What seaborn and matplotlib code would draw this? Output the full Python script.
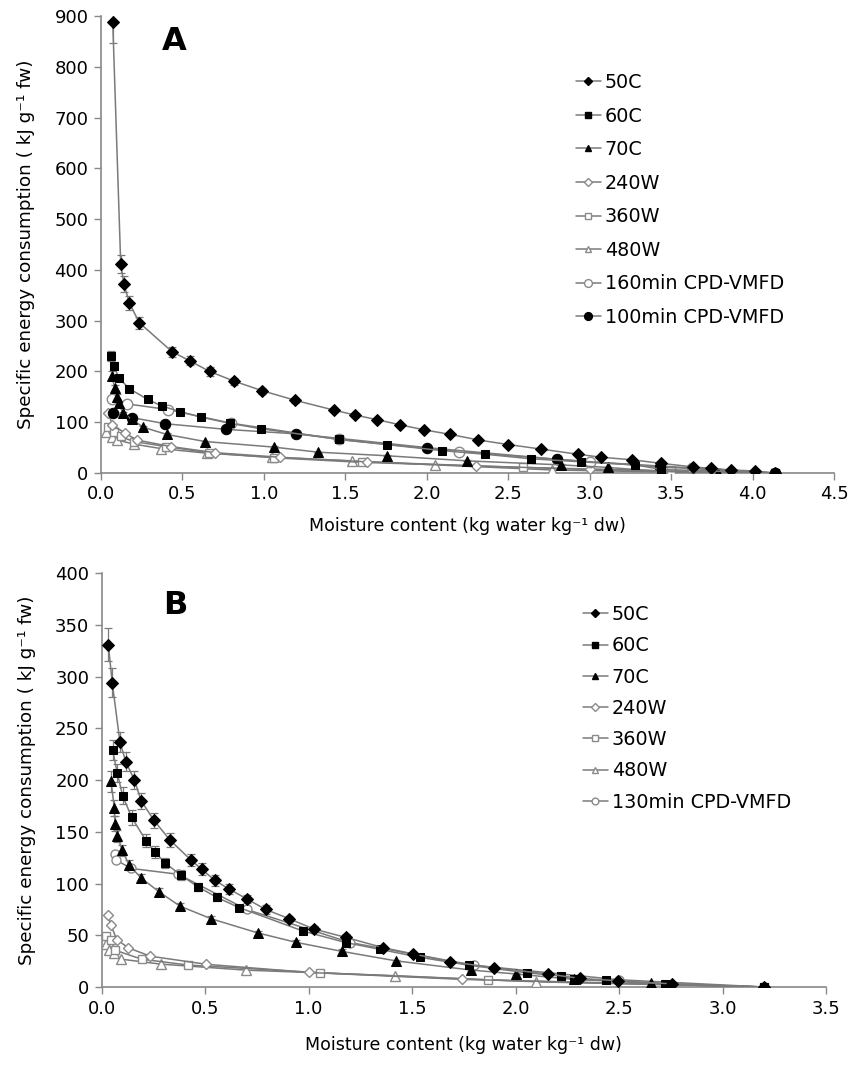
import numpy as np
import matplotlib
matplotlib.use("Agg")
import matplotlib.pyplot as plt
import seaborn as sns
from matplotlib.lines import Line2D

sns.set_style("white")
plt.rcParams['font.family'] = ['DejaVu Sans']
plt.rcParams['text.color'] = 'black'
plt.rcParams['axes.labelcolor'] = 'black'
plt.rcParams['xtick.color'] = 'black'
plt.rcParams['ytick.color'] = 'black'

# ---------------- Panel A data ----------------
a_50c_x = [0.072, 0.121, 0.141, 0.174, 0.235, 0.436, 0.544, 0.667, 0.816, 0.990, 1.194, 1.428, 1.561,
           1.696, 1.834, 1.984, 2.145, 2.317, 2.501, 2.704, 2.926, 3.072, 3.26, 3.44, 3.634, 3.747,
           3.865, 4.012, 4.135]
a_50c_y = [889, 412, 372, 335, 296, 239, 221, 200, 181, 162, 143, 124, 114, 105, 95, 85, 76, 65, 56,
           47, 37, 31, 26, 19, 12, 9, 6, 4, 0]
a_50c_e = [42, 18, 16, 14, 12, 10, 9, 8, 7, 6, 5, 4, 4, 3, 3, 3, 2, 2, 2, 2, 1, 1, 1, 1, 1, 1, 1, 1, 0]

a_60c_x = [0.061, 0.080, 0.110, 0.174, 0.286, 0.372, 0.485, 0.613, 0.79, 0.984, 1.464, 1.753, 2.096,
           2.356, 2.64, 2.947, 3.28, 3.44, 4.135]
a_60c_y = [231, 210, 187, 166, 145, 132, 121, 110, 98, 87, 66, 56, 44, 37, 28, 22, 16, 7, 0]
a_60c_e = [10, 8, 6, 5, 4, 3, 3, 3, 2, 2, 2, 1, 1, 1, 1, 1, 1, 1, 0]

a_70c_x = [0.065, 0.086, 0.096, 0.110, 0.133, 0.188, 0.26, 0.403, 0.638, 1.061, 1.333, 1.753, 2.244,
           2.822, 3.11, 3.44, 3.79]
a_70c_y = [192, 167, 150, 137, 118, 106, 90, 76, 62, 51, 41, 34, 24, 16, 11, 3, 0]
a_70c_e = [8, 6, 5, 4, 3, 3, 3, 2, 2, 2, 1, 1, 1, 1, 1, 1, 0]

a_240w_x = [0.045, 0.07, 0.15, 0.22, 0.43, 0.70, 1.10, 1.63, 2.305, 3.0, 4.135]
a_240w_y = [118, 95, 78, 65, 52, 40, 31, 22, 14, 7, 0]

a_360w_x = [0.04, 0.08, 0.12, 0.20, 0.40, 0.66, 1.06, 1.60, 2.59, 3.5, 4.135]
a_360w_y = [90, 80, 72, 62, 52, 40, 30, 21, 11, 4, 0]

a_480w_x = [0.03, 0.07, 0.10, 0.20, 0.37, 0.65, 1.05, 1.54, 2.05, 2.77, 3.8]
a_480w_y = [80, 70, 65, 57, 48, 39, 31, 24, 16, 6, 0]

a_160_x = [0.065, 0.162, 0.41, 0.80, 1.46, 2.2, 3.0, 3.63, 4.135]
a_160_y = [146, 136, 125, 98, 66, 42, 22, 10, 0]

a_100_x = [0.076, 0.192, 0.395, 0.767, 1.20, 2.0, 2.8, 3.43, 4.135]
a_100_y = [119, 109, 97, 86, 77, 50, 27, 12, 0]

# ---------------- Panel B data ----------------
b_50c_x = [0.032, 0.051, 0.088, 0.116, 0.158, 0.191, 0.253, 0.33, 0.43, 0.483, 0.547, 0.617, 0.703,
           0.792, 0.906, 1.026, 1.179, 1.361, 1.505, 1.683, 1.895, 2.155, 2.31, 2.496, 2.758, 3.2]
b_50c_y = [331, 294, 237, 218, 200, 180, 161, 142, 123, 114, 103, 94.5, 85, 75, 66, 56, 48, 38, 32,
           24.5, 18.7, 12.5, 8.4, 6, 3, 0]
b_50c_e = [16, 14, 10, 9, 9, 8, 7, 7, 6, 6, 5, 5, 4, 4, 3, 3, 3, 2, 2, 2, 1, 1, 1, 1, 1, 0]

b_60c_x = [0.053, 0.075, 0.101, 0.145, 0.214, 0.257, 0.306, 0.383, 0.464, 0.556, 0.665, 0.974, 1.179,
           1.344, 1.538, 1.776, 2.053, 2.219, 2.283, 2.436, 2.721, 3.2]
b_60c_y = [229, 207, 185, 164, 141.5, 130.6, 120, 108, 97, 86.7, 76.7, 54, 43, 36.4, 28.7, 21, 13.8,
           10.6, 7.4, 6.8, 3, 0]
b_60c_e = [10, 9, 8, 7, 6, 6, 5, 5, 4, 4, 3, 2, 2, 2, 1, 1, 1, 1, 1, 1, 1, 0]

b_70c_x = [0.045, 0.061, 0.064, 0.075, 0.10, 0.132, 0.19, 0.278, 0.378, 0.53, 0.754, 0.939, 1.162,
           1.421, 1.784, 2.0, 2.28, 2.654, 3.2]
b_70c_y = [199, 173, 158, 146, 132, 118, 105.5, 91.9, 78.2, 65.9, 52.3, 43.2, 34.4, 25.3, 16.4, 12.6,
           7.4, 3.6, 0]
b_70c_e = [10, 8, 7, 6, 5, 5, 4, 4, 3, 3, 2, 2, 2, 1, 1, 1, 1, 1, 0]

b_240w_x = [0.029, 0.045, 0.073, 0.129, 0.235, 0.504, 1.0, 1.739, 3.2]
b_240w_y = [69.8, 59.6, 45.8, 37.8, 29.8, 22, 14.1, 7.4, 0]

b_360w_x = [0.019, 0.045, 0.064, 0.193, 0.419, 1.055, 1.868, 3.2]
b_360w_y = [49.4, 45.2, 35.6, 26.9, 21.2, 13.8, 6.8, 0]

b_480w_x = [0.021, 0.037, 0.06, 0.094, 0.286, 0.697, 1.419, 2.1, 3.2]
b_480w_y = [42, 36.2, 32.4, 26.9, 22.1, 16.3, 10.9, 5, 0]

b_130_x = [0.064, 0.07, 0.143, 0.37, 0.70, 1.2, 1.8, 2.5, 3.2]
b_130_y = [129, 122.7, 114.6, 109, 75, 43, 21, 7, 0]

LINE = "#7a7a7a"
GREY = "#8a8a8a"

W, H = 862, 1065
fig = plt.figure(figsize=(W / 100, H / 100), dpi=100)
axA = fig.add_axes([101 / W, 1 - 473 / H, 733 / W, 457 / H])
axB = fig.add_axes([101.7 / W, 1 - 987 / H, 724.3 / W, 413.7 / H])


def draw(ax, x, y, label, marker, filled, ms, yerr=None):
    if yerr is not None:
        ax.errorbar(x, y, yerr=yerr, fmt="none", ecolor=LINE, elinewidth=0.9, capsize=3,
                    capthick=0.9, zorder=2)
    if filled:
        kw = dict(markerfacecolor="black", markeredgecolor="black")
    else:
        kw = dict(markerfacecolor="white", markeredgecolor=GREY, markeredgewidth=1.0)
    sns.lineplot(x=x, y=y, ax=ax, sort=False, estimator=None, color=LINE, linewidth=1.1,
                 marker=marker, markersize=ms, zorder=3, legend=False, **kw)
    return Line2D([], [], color=LINE, linewidth=1.1, marker=marker, markersize=ms * 0.75, **kw), label


handlesA = []
handlesA.append(draw(axA, a_480w_x, a_480w_y, "480W", "^", False, 6.5))
handlesA.append(draw(axA, a_360w_x, a_360w_y, "360W", "s", False, 5.5))
handlesA.append(draw(axA, a_240w_x, a_240w_y, "240W", "D", False, 5))
handlesA.append(draw(axA, a_160_x, a_160_y, "160min CPD-VMFD", "o", False, 7.5))
handlesA.append(draw(axA, a_100_x, a_100_y, "100min CPD-VMFD", "o", True, 7.5))
handlesA.append(draw(axA, a_70c_x, a_70c_y, "70C", "^", True, 6.5, a_70c_e))
handlesA.append(draw(axA, a_60c_x, a_60c_y, "60C", "s", True, 6, a_60c_e))
handlesA.append(draw(axA, a_50c_x, a_50c_y, "50C", "D", True, 6, a_50c_e))
orderA = ["50C", "60C", "70C", "240W", "360W", "480W", "160min CPD-VMFD", "100min CPD-VMFD"]
hmap = {l: h for h, l in handlesA}

handlesB = []
handlesB.append(draw(axB, b_480w_x, b_480w_y, "480W", "^", False, 6.5))
handlesB.append(draw(axB, b_360w_x, b_360w_y, "360W", "s", False, 5.5))
handlesB.append(draw(axB, b_240w_x, b_240w_y, "240W", "D", False, 5))
handlesB.append(draw(axB, b_130_x, b_130_y, "130min CPD-VMFD", "o", False, 6.5))
handlesB.append(draw(axB, b_70c_x, b_70c_y, "70C", "^", True, 6.5, b_70c_e))
handlesB.append(draw(axB, b_60c_x, b_60c_y, "60C", "s", True, 6, b_60c_e))
handlesB.append(draw(axB, b_50c_x, b_50c_y, "50C", "D", True, 6, b_50c_e))
orderB = ["50C", "60C", "70C", "240W", "360W", "480W", "130min CPD-VMFD"]
hmapB = {l: h for h, l in handlesB}

xlabel = "Moisture content (kg water kg\u207b\u00b9 dw)"
ylabel = "Specific energy consumption ( kJ g\u207b\u00b9 fw)"

for ax, xmax, xt, ymax, yt, xpad in [(axA, 4.5, np.arange(0, 4.51, 0.5), 900, np.arange(0, 901, 100), 10),
                                      (axB, 3.5, np.arange(0, 3.51, 0.5), 400, np.arange(0, 401, 50), 13)]:
    ax.set_xlim(0, xmax)
    ax.set_ylim(0, ymax)
    ax.set_xticks(xt)
    ax.set_xticklabels([f"{v:.1f}" for v in xt])
    ax.set_yticks(yt)
    ax.set_yticklabels([f"{int(v)}" for v in yt])
    for s in ["top", "right"]:
        ax.spines[s].set_visible(False)
    for s in ["left", "bottom"]:
        ax.spines[s].set_color("#888888")
        ax.spines[s].set_linewidth(1.2)
    ax.tick_params(axis="both", direction="out", length=5, width=1.0, color="#888888",
                   labelsize=13, labelcolor="black", pad=4, bottom=True, left=True)
    ax.set_xlabel(xlabel, fontsize=12.5, labelpad=xpad)
    ax.set_ylabel(ylabel, fontsize=13.2, labelpad=14)
    ax.patch.set_alpha(0)

axA.text(0.10, 0.945, "A", transform=axA.transAxes, fontsize=23, fontweight="bold", va="center", ha="center")
axB.text(0.101, 0.923, "B", transform=axB.transAxes, fontsize=23, fontweight="bold", va="center", ha="center")

fig.legend([hmap[l] for l in orderA], orderA, loc="upper left", bbox_to_anchor=(576 / W, 1 - 73 / H),
           frameon=False, fontsize=13.8, handlelength=1.3, handletextpad=0.2, labelspacing=0.76,
           borderaxespad=0, borderpad=0)
fig.legend([hmapB[l] for l in orderB], orderB, loc="upper left", bbox_to_anchor=(583 / W, 1 - 605 / H),
           frameon=False, fontsize=13.8, handlelength=1.3, handletextpad=0.2, labelspacing=0.64,
           borderaxespad=0, borderpad=0)

fig.savefig("out.png", dpi=100, facecolor="white")
